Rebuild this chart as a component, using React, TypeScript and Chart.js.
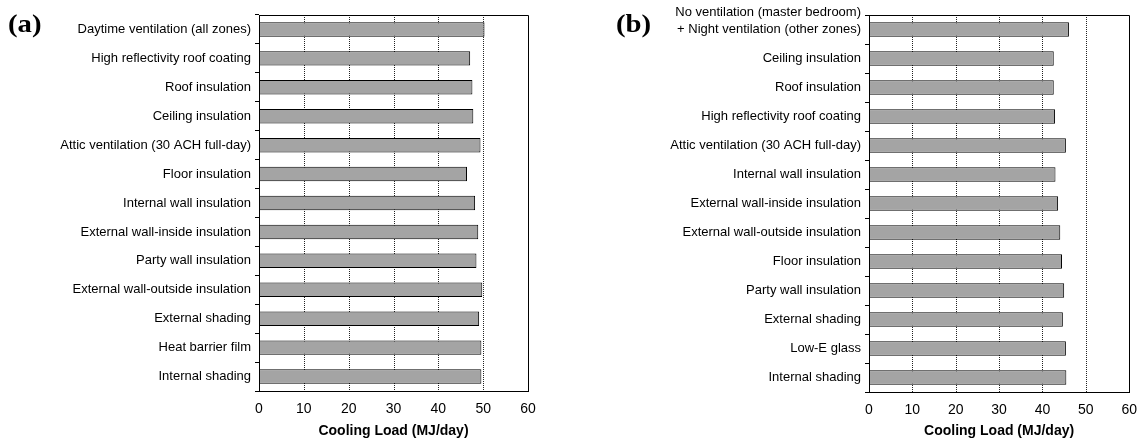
import React, { useEffect, useRef } from "react";
import { Chart, registerables } from "chart.js";

Chart.register(...registerables);

const labelsA: (string | string[])[] = [
  "Daytime ventilation (all zones)",
  "High reflectivity roof coating",
  "Roof insulation",
  "Ceiling insulation",
  "Attic ventilation (30 ACH full-day)",
  "Floor insulation",
  "Internal wall insulation",
  "External wall-inside insulation",
  "Party wall insulation",
  "External wall-outside insulation",
  "External shading",
  "Heat barrier film",
  "Internal shading",
];
const valuesA: number[] = [50.3, 47.1, 47.6, 47.8, 49.4, 46.4, 48.2, 48.9, 48.5, 49.8, 49.1, 49.6, 49.6];

const labelsB: (string | string[])[] = [
  ["No ventilation (master bedroom)", "+ Night ventilation (other zones)", ""],
  "Ceiling insulation",
  "Roof insulation",
  "High reflectivity roof coating",
  "Attic ventilation (30 ACH full-day)",
  "Internal wall insulation",
  "External wall-inside insulation",
  "External wall-outside insulation",
  "Floor insulation",
  "Party wall insulation",
  "External shading",
  "Low-E glass",
  "Internal shading",
];
const valuesB: number[] = [46.1, 42.6, 42.6, 42.9, 45.4, 43.0, 43.6, 44.1, 44.5, 45.0, 44.7, 45.4, 45.5];

const X_MIN = 0;
const X_MAX = 60;
const X_STEP = 10;
const AXIS_TITLE = "Cooling Load (MJ/day)";

const FONT = "Arial, 'Liberation Sans', sans-serif";

const framePlugin = {
  id: "frame",
  beforeDatasetsDraw(chart: any) {
    const { ctx, chartArea, scales } = chart;
    const { left, top, bottom } = chartArea;
    const x = scales.x;
    ctx.save();
    ctx.strokeStyle = "#222";
    ctx.lineWidth = 1;
    ctx.setLineDash([1, 1]);
    x.ticks.forEach((t: any) => {
      if (t.value > X_MIN && t.value < X_MAX) {
        const px = Math.round(x.getPixelForValue(t.value)) + 0.5;
        ctx.beginPath();
        ctx.moveTo(px, top);
        ctx.lineTo(px, bottom);
        ctx.stroke();
      }
    });
    ctx.setLineDash([]);
    ctx.strokeStyle = "#000";
    const r = Math.round(x.getPixelForValue(X_MAX)) + 0.5;
    const t = Math.round(top) + 0.5;
    ctx.beginPath();
    ctx.moveTo(left, t);
    ctx.lineTo(r, t);
    ctx.lineTo(r, bottom);
    ctx.stroke();
    ctx.restore();
  },
};

function BarPanel(props: {
  labels: (string | string[])[];
  values: number[];
  width: number;
  height: number;
  yAxisWidth: number;
  padRight: number;
  padTop: number;
  xAxisHeight: number;
}) {
  const ref = useRef<HTMLCanvasElement>(null);
  useEffect(() => {
    if (!ref.current) return;
    const chart = new Chart(ref.current, {
      type: "bar",
      data: {
        labels: props.labels,
        datasets: [
          {
            data: props.values,
            backgroundColor: "#a4a4a4",
            borderColor: "#000",
            borderWidth: 1,
            borderSkipped: false,
            barPercentage: 0.5,
            categoryPercentage: 1,
          },
        ],
      },
      options: {
        indexAxis: "y",
        responsive: false,
        animation: false,
        devicePixelRatio: 1,
        layout: { padding: { top: props.padTop, right: props.padRight, left: 0, bottom: 0 } },
        plugins: { legend: { display: false }, tooltip: { enabled: false } },
        scales: {
          x: {
            min: X_MIN,
            max: X_MAX,
            ticks: {
              stepSize: X_STEP,
              color: "#000",
              font: { family: FONT, size: 14 },
              padding: 10,
              maxRotation: 0,
            },
            grid: { display: false, drawTicks: false },
            border: { display: true, color: "#000", width: 1 },
            title: {
              display: true,
              text: AXIS_TITLE,
              color: "#000",
              font: { family: FONT, size: 14, weight: "bold" },
              padding: { top: 0, bottom: 4 },
            },
            afterFit: (scale: any) => {
              scale.height = props.xAxisHeight;
            },
          },
          y: {
            ticks: {
              color: "#000",
              font: { family: FONT, size: 13, lineHeight: 1.3 },
              padding: 4,
              autoSkip: false,
            },
            grid: {
              offset: true,
              drawOnChartArea: false,
              drawTicks: true,
              tickLength: 4,
              color: "#000",
            },
            border: { display: true, color: "#000", width: 1 },
            afterFit: (scale: any) => {
              scale.width = props.yAxisWidth;
            },
          },
        },
      },
      plugins: [framePlugin],
    } as any);
    return () => chart.destroy();
  }, []);
  return <canvas ref={ref} width={props.width} height={props.height} style={{ display: "block" }} />;
}

const panelLabel: React.CSSProperties = {
  position: "absolute",
  fontFamily: "'Times New Roman', 'Liberation Serif', serif",
  fontWeight: "bold",
  fontSize: 25,
  lineHeight: 1,
  color: "#000",
  transform: "scaleX(1.15)",
  transformOrigin: "left top",
};

export default function App() {
  return (
    <div style={{ position: "fixed", left: 0, top: 0, width: 1147, height: 444, background: "#fff" }}>
      <div style={{ position: "absolute", left: 0, top: 0 }}>
        <BarPanel
          labels={labelsA}
          values={valuesA}
          width={573}
          height={444}
          yAxisWidth={259}
          padRight={45}
          padTop={15}
          xAxisHeight={53}
        />
      </div>
      <div style={{ position: "absolute", left: 573, top: 0 }}>
        <BarPanel
          labels={labelsB}
          values={valuesB}
          width={574}
          height={444}
          yAxisWidth={296}
          padRight={9}
          padTop={15}
          xAxisHeight={52}
        />
      </div>
      <div style={{ ...panelLabel, left: 8, top: 11 }}>(a)</div>
      <div style={{ ...panelLabel, left: 616, top: 11 }}>(b)</div>
    </div>
  );
}
